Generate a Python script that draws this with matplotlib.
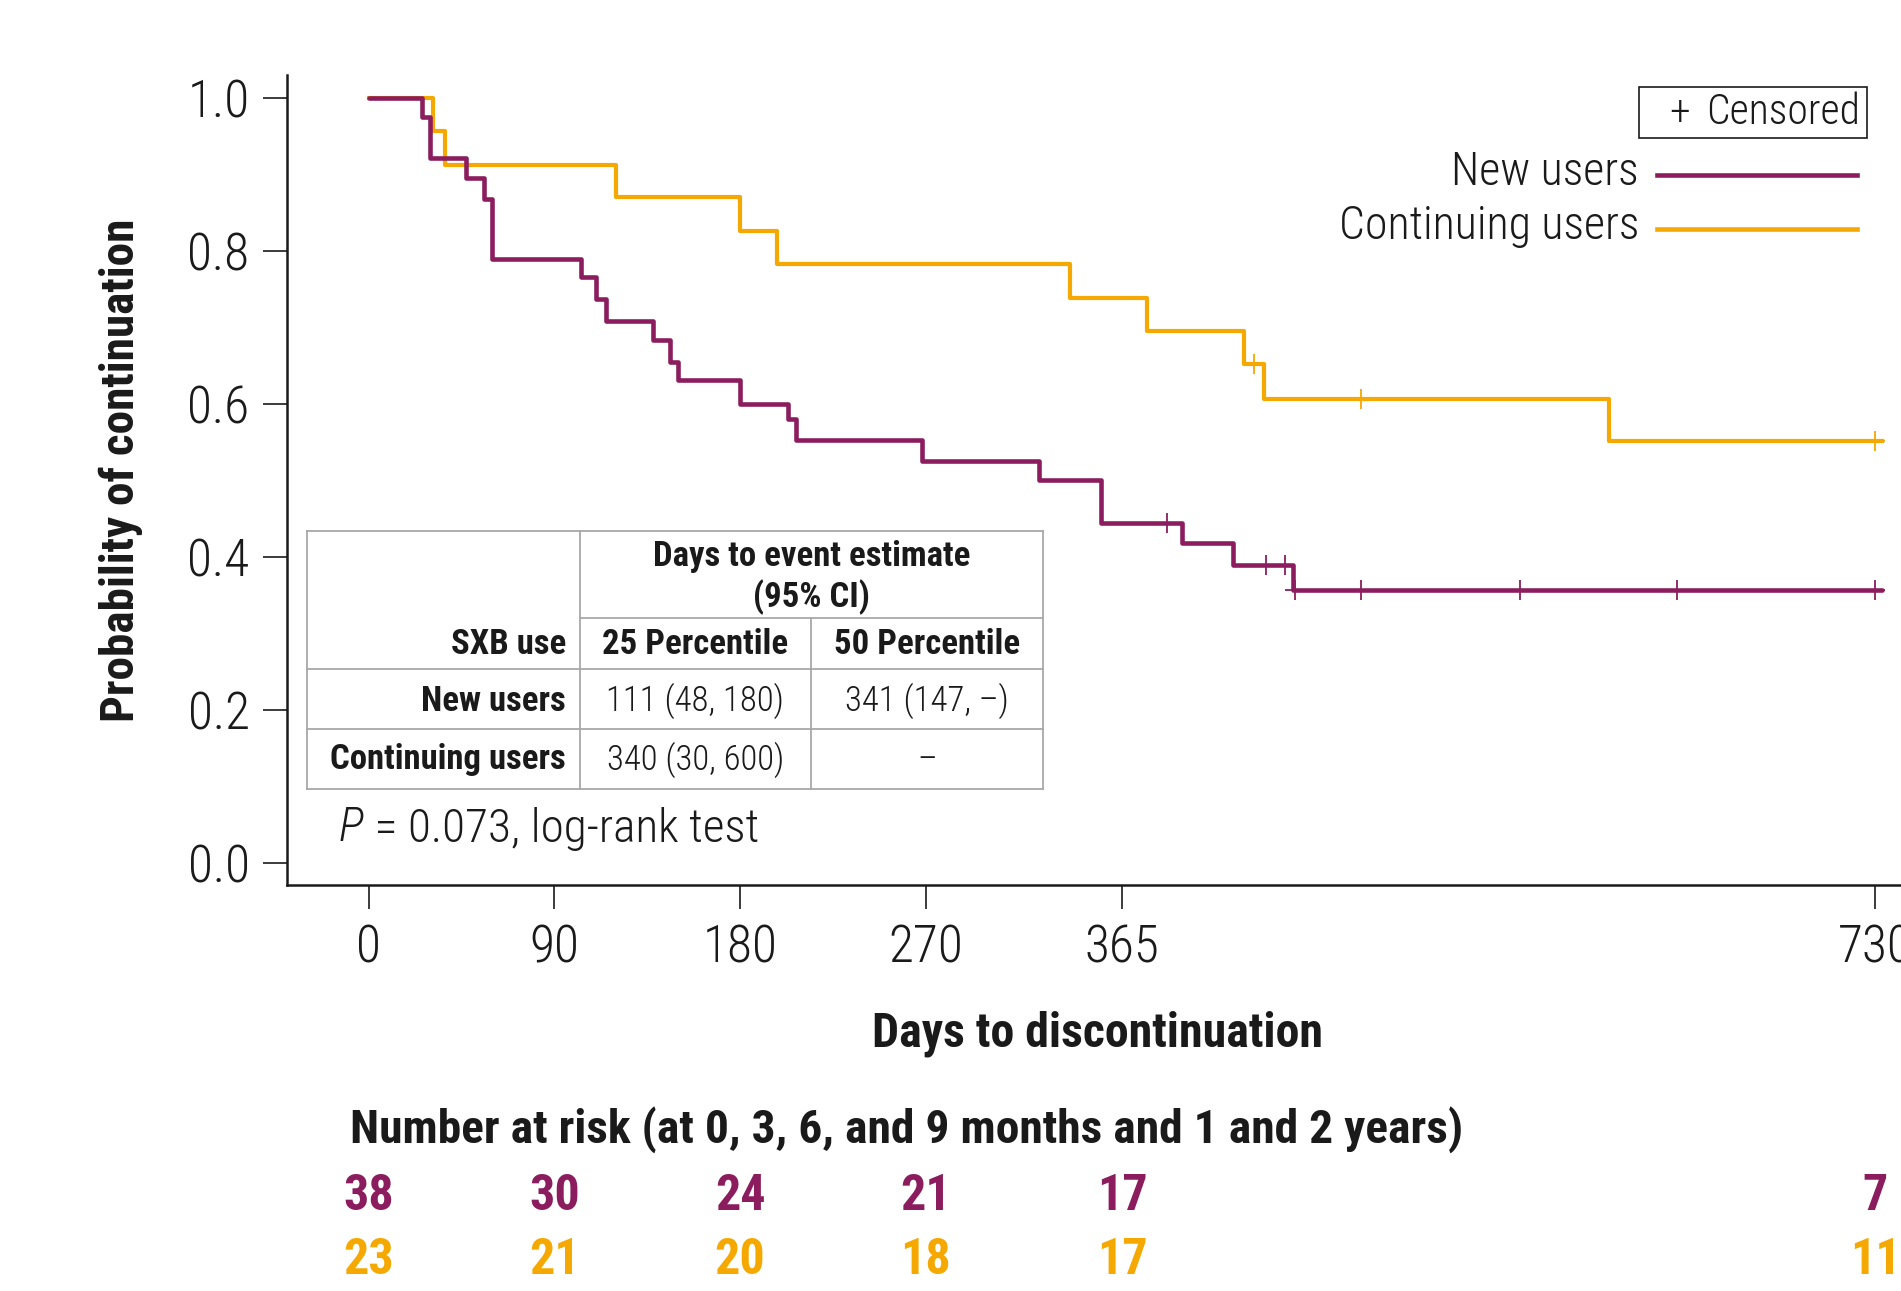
import numpy as np
import matplotlib
matplotlib.use("Agg")
import matplotlib.pyplot as plt
from matplotlib.lines import Line2D
from matplotlib.patches import Rectangle
import matplotlib.transforms as mtransforms

# Kaplan-Meier steps (days, probability after step)
new_t = [0, 26, 30, 47, 56, 60, 103, 110, 115, 138, 146, 150, 180, 203, 207,
         268, 325, 355, 394, 419, 448, 733]
new_s = [1.0, 0.975, 0.921, 0.895, 0.868, 0.789, 0.766, 0.737, 0.708, 0.684,
         0.655, 0.631, 0.600, 0.580, 0.553, 0.526, 0.501, 0.445, 0.419, 0.390,
         0.357, 0.357]
new_cens = [387, 435, 444, 449, 481, 558, 634, 730]

cont_t = [0, 31, 37, 120, 180, 198, 340, 377, 424, 434, 601, 733]
cont_s = [1.0, 0.957, 0.913, 0.870, 0.826, 0.783, 0.739, 0.696, 0.652, 0.606,
          0.552, 0.552]
cont_cens = [429, 481, 730]

xticks = [0, 90, 180, 270, 365, 730]
yticks = [0.0, 0.2, 0.4, 0.6, 0.8, 1.0]

risk_days = [0, 90, 180, 270, 365, 730]
risk_new = [38, 30, 24, 21, 17, 7]
risk_cont = [23, 21, 20, 18, 17, 11]

tbl_cols = ["25 Percentile", "50 Percentile"]
tbl_rows = ["New users", "Continuing users"]
tbl_vals = [["111 (48, 180)", "341 (147, \u2013)"],
            ["340 (30, 600)", "\u2013"]]

PURPLE = "#8B1D5E"
GOLD = "#F5A800"
GRID = "#a8a8a8"
INK = "#1a1a1a"

plt.rcParams['font.family'] = ['Roboto Condensed', 'Liberation Sans', 'DejaVu Sans']

W, H = 1901, 1291
fig = plt.figure(figsize=(W / 100, H / 100), dpi=100)


def fx(x):
    return x / W


def fy(y):
    return 1 - y / H


ax = fig.add_axes([fx(287), fy(885), 1 - fx(287), fy(75) - fy(885)])
ax.set_xlim(-39.5, 742.4)
ax.set_ylim(-0.0285, 1.030)

ax.step(cont_t, cont_s, where="post", color=GOLD, lw=3.0, zorder=3)
ax.step(new_t, new_s, where="post", color=PURPLE, lw=3.3, zorder=4,
        solid_capstyle="round")


def surv_at(t, s, x):
    i = np.searchsorted(t, x, side="right") - 1
    return np.array(s)[i]


ax.plot(cont_cens, surv_at(cont_t, cont_s, cont_cens), ls="none", marker="+",
        ms=15, mew=1.3, color=GOLD, zorder=3)
ax.plot(new_cens, surv_at(new_t, new_s, new_cens), ls="none", marker="+",
        ms=15, mew=1.3, color=PURPLE, zorder=4)

for side in ["top", "right"]:
    ax.spines[side].set_visible(False)
for side in ["left", "bottom"]:
    ax.spines[side].set_linewidth(1.8)
    ax.spines[side].set_color(INK)

ax.set_xticks(xticks)
ax.set_xticklabels([str(v) for v in xticks])
ax.set_yticks(yticks)
ax.set_yticklabels([f"{v:.1f}" for v in yticks])
ax.tick_params(axis="both", direction="out", length=17, width=1.2,
               color=INK, labelsize=37, labelcolor=INK)
for lab in ax.get_xticklabels() + ax.get_yticklabels():
    lab.set_fontweight("light")
ax.tick_params(axis="x", pad=11)
ax.tick_params(axis="y", pad=10)

# axis titles
fig.text(fx(121), fy(470), "Probability of continuation", rotation=90,
         ha="center", va="center", fontsize=34, fontweight="bold", color=INK)
fig.text(fx(1097), fy(1034), "Days to discontinuation", ha="center",
         va="center", fontsize=34.5, fontweight="bold", color=INK)

# legend
fig.add_artist(Rectangle((fx(1639), fy(138)), fx(1867) - fx(1639),
                         fy(87) - fy(138), transform=fig.transFigure,
                         fill=False, ec=INK, lw=1.2))
fig.text(fx(1680), fy(113), "+", ha="center", va="center", fontsize=30,
         fontweight="light", color=INK)
fig.text(fx(1706), fy(113), "Censored", ha="left", va="center", fontsize=30,
         fontweight="light", color=INK)
for lab, col, yy in [("New users", PURPLE, 175), ("Continuing users", GOLD, 229)]:
    fig.text(fx(1639), fy(yy - 3), lab, ha="right", va="center", fontsize=33,
             fontweight="light", color=INK)
    fig.add_artist(Line2D([fx(1657), fx(1857)], [fy(yy), fy(yy)],
                          transform=fig.transFigure, color=col, lw=3.3))

# estimate table
x0, xa, xb, x1 = 307, 579.5, 811, 1043
y0, r1, r2, r3, y1 = 531, 618, 669, 729, 789
segs = [((x0, y0), (x1, y0)), ((x0, y1), (x1, y1)),
        ((x0, y0), (x0, y1)), ((x1, y0), (x1, y1)),
        ((xa, y0), (xa, y1)), ((xb, r1), (xb, y1)),
        ((xa, r1), (x1, r1)), ((x0, r2), (x1, r2)), ((x0, r3), (x1, r3))]
fig.add_artist(Rectangle((fx(x0), fy(y1)), fx(x1) - fx(x0), fy(y0) - fy(y1),
                         transform=fig.transFigure, fc="white", ec="none",
                         zorder=5))
for (p, q) in segs:
    fig.add_artist(Line2D([fx(p[0]), fx(q[0])], [fy(p[1]), fy(q[1])],
                          transform=fig.transFigure, color=GRID, lw=1.3,
                          zorder=6))
tk = dict(color=INK, va="center", zorder=7)
fs_tbl = 25
fig.text(fx((xa + x1) / 2), fy(556), "Days to event estimate", ha="center",
         fontsize=fs_tbl, fontweight="bold", **tk)
fig.text(fx((xa + x1) / 2), fy(597), "(95% CI)", ha="center", fontsize=fs_tbl,
         fontweight="bold", **tk)
fig.text(fx(566), fy(645), "SXB use", ha="right", fontsize=fs_tbl,
         fontweight="bold", **tk)
col_cx = [(xa + xb) / 2, (xb + x1) / 2]
for cx, c in zip(col_cx, tbl_cols):
    fig.text(fx(cx), fy(645), c, ha="center", fontsize=fs_tbl,
             fontweight="bold", **tk)
for ry, rname, vals in zip([701, 760], tbl_rows, tbl_vals):
    fig.text(fx(566), fy(ry), rname, ha="right", fontsize=fs_tbl,
             fontweight="bold", **tk)
    for cx, v in zip(col_cx, vals):
        fig.text(fx(cx), fy(ry), v, ha="center", fontsize=fs_tbl,
                 fontweight="light", **tk)

ptxt = fig.text(fx(339), fy(828), "P", ha="left", va="center", fontsize=34,
                fontstyle="italic", fontweight="light", color=INK, zorder=7)
ax.annotate(" = 0.073, log-rank test", xy=(1, 0), xycoords=ptxt,
            ha="left", va="bottom", fontsize=34, fontweight="light",
            color=INK, annotation_clip=False)

# number at risk
fig.text(fx(350), fy(1130), "Number at risk (at 0, 3, 6, and 9 months and 1 and 2 years)",
         ha="left", va="center", fontsize=34.2, fontweight="bold", color=INK)
trans = mtransforms.blended_transform_factory(ax.transData, fig.transFigure)
for d, a, b in zip(risk_days, risk_new, risk_cont):
    fig.text(d, fy(1197), str(a), transform=trans, ha="center", va="center",
             fontsize=36, fontweight="bold", color=PURPLE)
    fig.text(d, fy(1261), str(b), transform=trans, ha="center", va="center",
             fontsize=36, fontweight="bold", color=GOLD)

fig.savefig("out.png", dpi=100)
